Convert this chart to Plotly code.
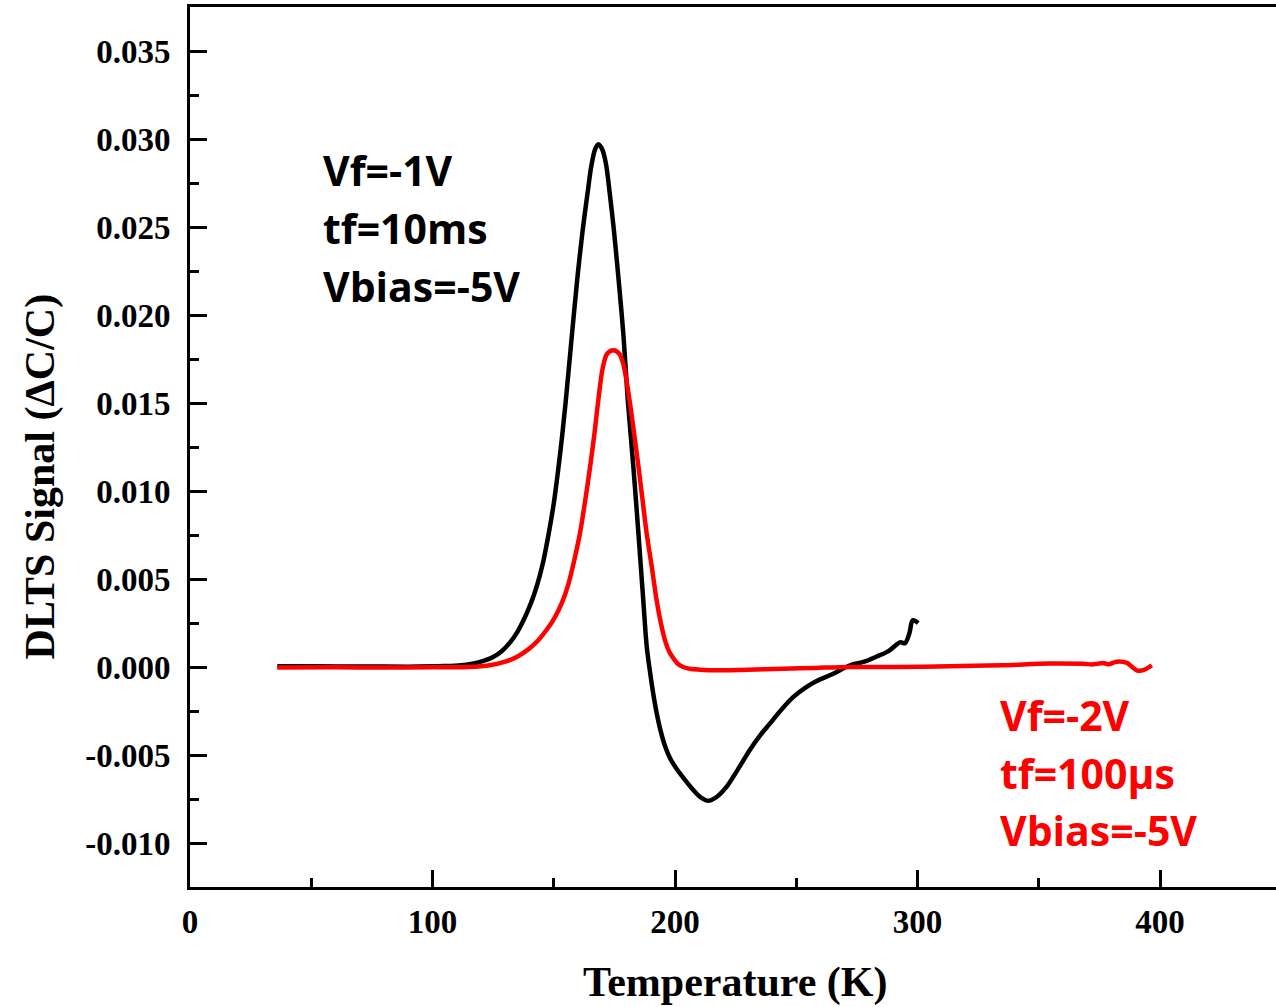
import plotly.graph_objects as go

# ---- data ----
temp_vf1 = [36, 50, 70, 90, 105, 112, 117, 121, 125, 128.5, 132, 135, 138, 140.5, 143, 145.5,
            147.8, 150, 151.9, 153.5, 155, 157.5, 159.8, 161.9, 164, 165.4, 167, 168.4, 170,
            171.5, 173, 174.8, 176.8, 178.7, 180.5, 182.8, 184.9, 186.9, 188.3, 189.7, 191,
            192.4, 194, 195.9, 198, 200.7, 204, 207.6, 210.5, 213.7, 217, 221.3, 226, 230.9,
            235, 239.2, 244, 248.8, 253.5, 258.4, 265, 272.2, 278, 283.2, 288, 292.8, 294.8,
            296.6, 298, 300.3]
signal_vf1 = [0.00004, 0.00004, 0.00003, 0.00002, 0.00005, 0.0001, 0.0002, 0.00035, 0.00057,
              0.0009, 0.0014, 0.002, 0.0028, 0.0036, 0.0046, 0.0059, 0.0075, 0.0093, 0.0113,
              0.0132, 0.0152, 0.0189, 0.0222, 0.0248, 0.027, 0.0284, 0.0294, 0.0297, 0.0294,
              0.0286, 0.027, 0.0248, 0.0219, 0.0189, 0.0152, 0.0114, 0.0076, 0.0038, 0.0012,
              -0.0003, -0.0015, -0.0026, -0.0036, -0.0045, -0.0052, -0.0058, -0.0064, -0.007,
              -0.0074, -0.0076, -0.0074, -0.0068, -0.0058, -0.0047, -0.0039, -0.0032, -0.0024,
              -0.0017, -0.0012, -0.0008, -0.0004, 0.0001, 0.0003, 0.0006, 0.0009, 0.0014,
              0.00135, 0.0019, 0.00265, 0.0025]

temp_vf2 = [36, 60, 80, 100, 115, 123.7, 130, 134.7, 139.5, 143.6, 147, 150.5, 153.5, 156,
            158.5, 160.8, 163, 165, 166.8, 168.4, 170.2, 172, 174.6, 177, 178.7, 181.2, 183,
            184.9, 186.6, 188.3, 190.4, 192.4, 194, 195.9, 197.5, 199.3, 201, 203.4, 206,
            210.3, 217.2, 230, 244.7, 258, 272.2, 290, 313.4, 335, 354.6, 368, 372.5, 376.6,
            378.7, 382.1, 386.3, 388.5, 390.4, 393.1, 396.6]
signal_vf2 = [-0.00003, -0.00002, -0.00003, -0.00002, 0.0, 0.0001, 0.0003, 0.00057, 0.001,
              0.00152, 0.0021, 0.00284, 0.0037, 0.0047, 0.0061, 0.0076, 0.0095, 0.0114, 0.0133,
              0.0152, 0.017, 0.0178, 0.018, 0.0178, 0.0172, 0.0152, 0.0134, 0.0114, 0.0095,
              0.0076, 0.0057, 0.0038, 0.0026, 0.0015, 0.0009, 0.0005, 0.0002, 0.0, -0.0001,
              -0.00015, -0.00019, -0.00015, -0.0001, -0.00005, 0.0, 0.0, 0.00004, 0.0001,
              0.0002, 0.00018, 0.00015, 0.00023, 0.00015, 0.0003, 0.00023, 0.0, -0.00019,
              -0.00018, 0.0001]

label_vf1 = ["Vf=-1V", "tf=10ms", "Vbias=-5V"]
label_vf2 = ["Vf=-2V", "tf=100µs", "Vbias=-5V"]

x_ticks = [0, 100, 200, 300, 400]
y_ticks = [-0.010, -0.005, 0.000, 0.005, 0.010, 0.015, 0.020, 0.025, 0.030, 0.035]

fig = go.Figure()
fig.add_trace(go.Scatter(x=temp_vf1, y=signal_vf1, mode="lines",
                         line=dict(color="black", width=4.5, shape="spline", smoothing=0.9),
                         name="Vf=-1V", showlegend=False))
fig.add_trace(go.Scatter(x=temp_vf2, y=signal_vf2, mode="lines",
                         line=dict(color="#ff0000", width=4.5, shape="spline", smoothing=0.9),
                         name="Vf=-2V", showlegend=False))

txt_font = dict(family="Open Sans", size=41, weight="bold")
for lab, yv in zip(label_vf1, [0.02822, 0.02493, 0.02163]):
    fig.add_annotation(x=54.0, y=yv, xref="x", yref="y", text=lab, showarrow=False,
                       xanchor="left", yanchor="middle", font=dict(color="black", **txt_font))
for lab, yv in zip(label_vf2, [-0.00275, -0.00604, -0.00928]):
    fig.add_annotation(x=333, y=yv, xref="x", yref="y", text=lab, showarrow=False,
                       xanchor="left", yanchor="middle", font=dict(color="#ff0000", **txt_font))

title_font = dict(family="Liberation Serif", size=42, weight="bold", color="black")
fig.add_annotation(x=0.502, y=-0.109, xref="paper", yref="paper", text="Temperature (K)",
                   showarrow=False, xanchor="center", yanchor="middle", font=title_font)
fig.add_annotation(x=-0.138, y=0.4667, xref="paper", yref="paper", text="DLTS Signal (ΔC/C)",
                   showarrow=False, xanchor="center", yanchor="middle", textangle=-90,
                   font=title_font)

tick_font = dict(family="Liberation Serif", size=33, weight="bold", color="black")
fig.update_xaxes(range=[0, 447.8], tickvals=x_ticks, ticktext=[str(v) for v in x_ticks],
                 ticks="inside", ticklen=17, tickwidth=3, tickcolor="black",
                 showline=True, linewidth=3, linecolor="black", mirror=True,
                 showgrid=False, zeroline=False, tickfont=tick_font, ticklabelstandoff=3,
                 minor=dict(dtick=50, tick0=0, ticks="inside", ticklen=9, tickwidth=3,
                            tickcolor="black", showgrid=False))
fig.update_yaxes(range=[-0.0125, 0.0375], tickvals=y_ticks,
                 ticktext=[f"{v:.3f}" for v in y_ticks],
                 ticks="inside", ticklen=17, tickwidth=3, tickcolor="black",
                 showline=True, linewidth=3, linecolor="black", mirror=False,
                 showgrid=False, zeroline=False, tickfont=tick_font, ticklabelstandoff=10,
                 minor=dict(dtick=0.0025, tick0=0, ticks="inside", ticklen=9, tickwidth=3,
                            tickcolor="black", showgrid=False))

fig.update_layout(width=1276, height=1007, margin=dict(l=190, r=0, t=7, b=120),
                  plot_bgcolor="white", paper_bgcolor="white", showlegend=False)

fig.write_html("out.html")
